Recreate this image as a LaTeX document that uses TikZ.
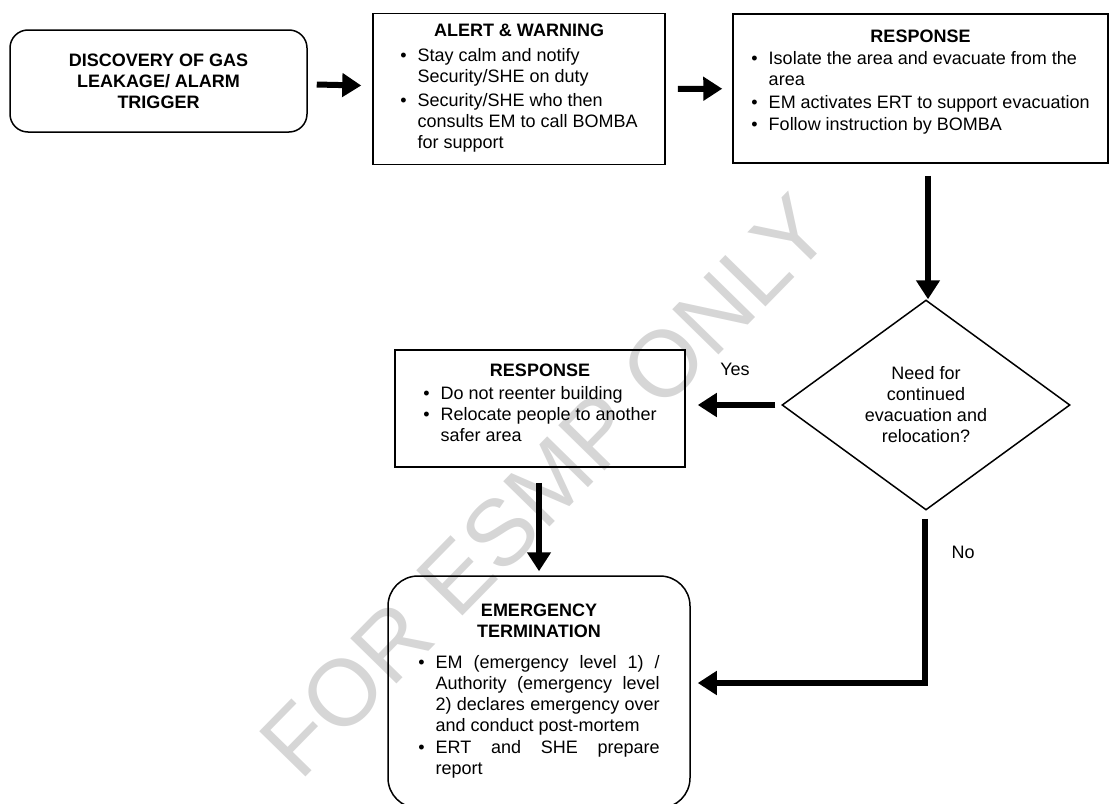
\documentclass[tikz,border=0pt]{standalone}
\usepackage{fontspec}
\setmainfont{Liberation Sans}
\usetikzlibrary{shapes, shapes.geometric, arrows.meta, positioning}

\begin{document}
\begin{tikzpicture}[
  x=1pt, y=-1pt,
  font=\fontsize{18}{21}\selectfont,
  box/.style={draw, line width=1.5pt, inner sep=0pt, align=center},
  flow/.style={line width=6pt, -{Triangle[length=19pt,width=23pt]}},
  lbl/.style={inner sep=0pt},
  ]
  \useasboundingbox (0,0) rectangle (1110,803);

  % watermark
  \node[text=black!16, rotate=45.6, font=\fontsize{94}{94}\selectfont] (mark) at (545,486) {FOR ESMP ONLY};

  \node[box, rounded corners=18pt, minimum width=297pt, minimum height=102pt, font=\fontsize{18}{21}\selectfont\bfseries] (disc) at (158.5,81)
    {DISCOVERY OF GAS\\LEAKAGE/ ALARM\\TRIGGER};

  \node[box, minimum width=292pt, minimum height=151pt] (alert) at (519,89)
    {\textbf{ALERT \& WARNING}\\[4pt]
     \begin{tabular}[t]{@{}l@{\hspace{11pt}}l@{}}
       \textbullet & Stay calm and notify\\
                   & Security/SHE on duty\\[3pt]
       \textbullet & Security/SHE who then\\
                   & consults EM to call BOMBA\\
                   & for support
     \end{tabular}};

  \node[box, minimum width=375pt, minimum height=149pt] (resp) at (920.5,88.5)
    {\textbf{RESPONSE}\\[1pt]
     \begin{tabular}[t]{@{}l@{\hspace{11pt}}l@{}}
       \textbullet & Isolate the area and evacuate from the\\
                   & area\\[2pt]
       \textbullet & EM activates ERT to support evacuation\\[1pt]
       \textbullet & Follow instruction by BOMBA\\[11pt]
     \end{tabular}};

  \node[box, diamond, aspect=1.37, minimum width=288pt, minimum height=210pt] (need) at (926,405)
    {Need for\\continued\\evacuation and\\relocation?};

  \node[box, minimum width=290pt, minimum height=117pt] (safe) at (540,408.5)
    {\textbf{RESPONSE}\\[2pt]
     \begin{tabular}[t]{@{}l@{\hspace{11pt}}l@{}}
       \textbullet & Do not reenter building\\
       \textbullet & Relocate people to another\\
                   & safer area\\[6pt]
     \end{tabular}};

  \node[box, rounded corners=30pt, minimum width=302pt, minimum height=232pt] (term) at (539,692)
    {\textbf{EMERGENCY}\\\textbf{TERMINATION}\\[10pt]
     \begin{tabular}[t]{@{}l@{\hspace{11pt}}p{224pt}@{}}
       \textbullet & EM (emergency level 1) /\linebreak
                     Authority (emergency level\linebreak
                     2) declares emergency over\linebreak
                     and conduct post-mortem\\[1pt]
       \textbullet & ERT and SHE prepare\linebreak report
     \end{tabular}};

  % connectors
  \draw[flow, shorten <=9pt, shorten >=11pt] (disc) -- (alert);
  \draw[flow, shorten <=12pt, shorten >=10pt] (alert) -- (resp);
  \draw[flow, shorten <=12pt] ([xshift=2pt]need.north |- resp.south) -- ([xshift=2pt]need.north);
  \draw[flow, shorten <=6pt, shorten >=12pt] (need.west) -- (safe.east |- need.west);
  \draw[flow, shorten <=15pt, shorten >=4pt] (safe.south -| term.north) -- (term.north);
  \draw[flow, shorten <=8pt, shorten >=7pt] ([xshift=-1pt]need.south) |- ([yshift=9pt]term.east);

  \node[lbl] (yes) at (735,369) {Yes};
  \node[lbl] (no) at (963,552) {No};
\end{tikzpicture}
\end{document}
